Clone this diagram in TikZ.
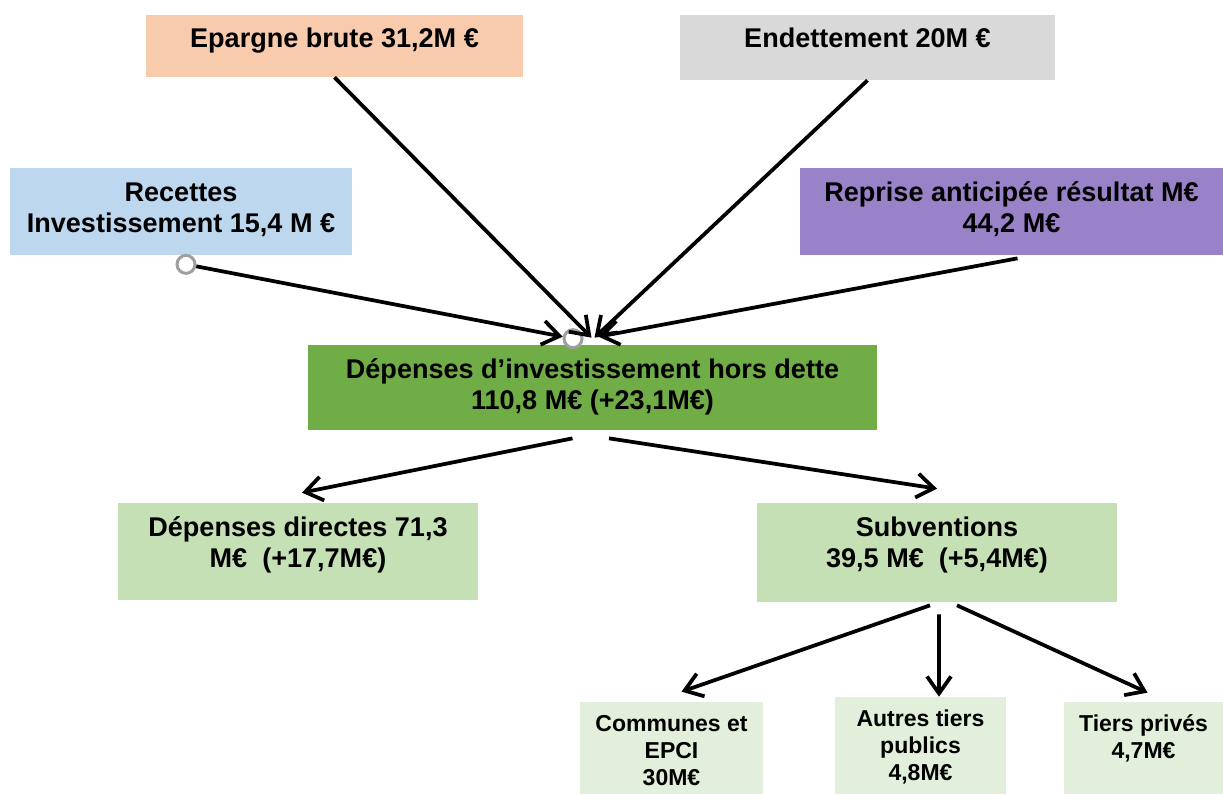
\documentclass[tikz,border=0pt]{standalone}
\usepackage{fontspec}
\setmainfont{Liberation Sans}
\usetikzlibrary{arrows.meta}

\definecolor{peche}{HTML}{F8CBAD}
\definecolor{grisclair}{HTML}{D9D9D9}
\definecolor{bleuclair}{HTML}{BDD7EE}
\definecolor{violet}{HTML}{9982C8}
\definecolor{vert}{HTML}{70AD47}
\definecolor{vertclair}{HTML}{C5E0B4}
\definecolor{vertpale}{HTML}{E2EFDA}

% boxes with text set at the top
\newcommand{\grand}[3]{\parbox[c][#2][t]{#1}{\centering\rule{0pt}{0.66cm}#3}}
\newcommand{\petit}[3]{\parbox[c][#2][t]{#1}{\centering\rule{0pt}{0.58cm}#3}}

\tikzset{
  cadre/.style={inner sep=0pt, font=\bfseries\fontsize{15.4}{18.2}\selectfont},
  cadrepetit/.style={inner sep=0pt, font=\bfseries\fontsize{13.1}{15.4}\selectfont},
  fleche/.style={line width=0.075cm, -{Straight Barb[length=0.34cm,width=0.48cm]}},
  poignee/.style={circle, draw=gray!75, fill=white, line width=0.06cm, inner sep=0pt, minimum size=0.36cm}
}

\begin{document}
\begin{tikzpicture}[x=0.02cm,y=-0.02cm]
	\useasboundingbox (0,0) rectangle (1223,794);
	
	% Sources
	\node[cadre, fill=peche] (epargne) at (334.5,46) {\grand{7.54cm}{1.24cm}{Epargne brute 31,2M €}};
	\node[cadre, fill=grisclair] (endettement) at (867.5,47.5) {\grand{7.5cm}{1.3cm}{Endettement 20M €}};
	\node[cadre, fill=bleuclair] (recettes) at (181,211.5) {\grand{6.84cm}{1.74cm}{Recettes\\Investissement 15,4 M €}};
	\node[cadre, fill=violet] (reprise) at (1011.5,211.5) {\grand{8.46cm}{1.74cm}{Reprise anticipée résultat M€\\44,2 M€}};
	
	% Total
	\node[cadre, fill=vert] (depinv) at (592.5,387.5) {\grand{11.38cm}{1.7cm}{Dépenses d’investissement hors dette\\110,8 M€ (+23,1M€)}};
	
	% Split
	\node[cadre, fill=vertclair] (depdir) at (298,551.5) {\grand{7.2cm}{1.94cm}{Dépenses directes 71,3\\M€\ \ (+17,7M€)}};
	\node[cadre, fill=vertclair] (subv) at (937,552.5) {\grand{7.2cm}{1.98cm}{Subventions\\39,5 M€\ \ (+5,4M€)}};
	
	% Subventions detail
	\node[cadrepetit, fill=vertpale] (communes) at (671.5,748) {\petit{3.66cm}{1.84cm}{Communes et\\EPCI\\30M€}};
	\node[cadrepetit, fill=vertpale] (autres) at (920.5,745.5) {\petit{3.42cm}{1.94cm}{Autres tiers\\publics\\4,8M€}};
	\node[cadrepetit, fill=vertpale] (tiers) at (1143.5,748) {\petit{3.18cm}{1.84cm}{Tiers privés\\4,7M€}};
	
	% Handles of the recettes connector
	\node[poignee] (h1) at ([shift={(5,9)}]recettes.south) {};
	\node[poignee] (h2) at ([shift={(-19.5,-6)}]depinv.north) {};
	
	% Arrows into the total
	\draw[fleche] (epargne.south) -- ([shift={(-1,-7)}]depinv.north);
	\draw[fleche] (endettement.south) -- ([shift={(2,-7)}]depinv.north);
	\draw[fleche] ([shift={(6,3)}]reprise.south) -- ([shift={(6,-8)}]depinv.north);
	\draw[fleche] (h1) -- (h2);
	
	% Arrows out of the total
	\draw[fleche] ([shift={(-20,8)}]depinv.south) -- ([shift={(4,-10)}]depdir.north);
	\draw[fleche] ([shift={(16.5,8)}]depinv.south) -- ([shift={(0,-14)}]subv.north);
	
	% Arrows out of subventions
	\draw[fleche] ([shift={(-7,3)}]subv.south) -- ([shift={(10,-10)}]communes.north);
	\draw[fleche] ([shift={(2,12)}]subv.south) -- ([shift={(18.5,0)}]autres.north);
	\draw[fleche] ([shift={(20,3)}]subv.south) -- ([shift={(4,-9)}]tiers.north);
\end{tikzpicture}
\end{document}
